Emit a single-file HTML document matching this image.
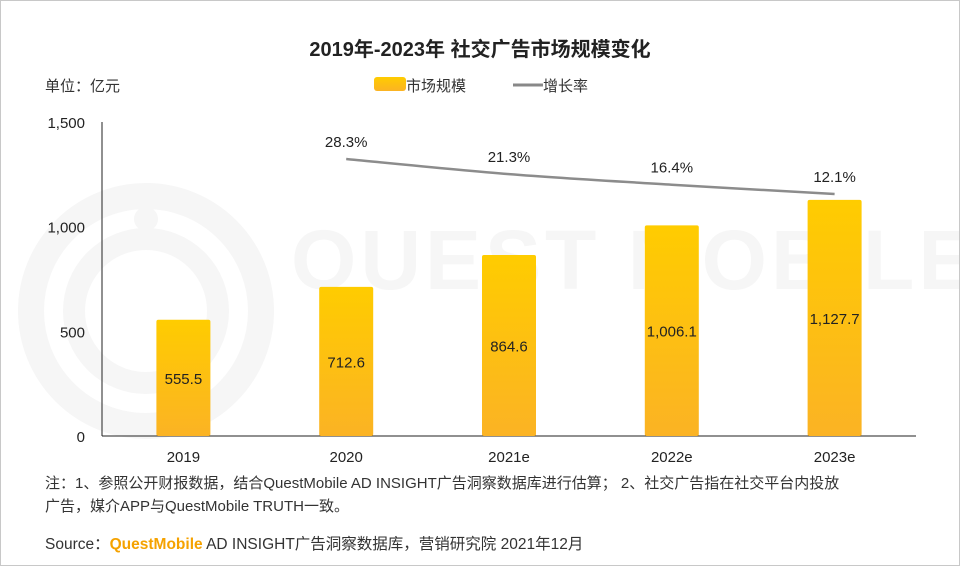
<!DOCTYPE html>
<html><head><meta charset="utf-8">
<style>
body{margin:0;background:#fff;}
#wrap{position:relative;width:958px;height:564px;border:1px solid #c8c8c8;overflow:hidden;font-family:"Liberation Sans","Noto Sans CJK SC",sans-serif;}
svg text{font-family:"Liberation Sans","Noto Sans CJK SC",sans-serif;}
</style></head><body>
<div id="wrap">
<svg id="chart" width="958" height="564">
<defs>
<linearGradient id="bg" x1="0" y1="0" x2="0" y2="1">
<stop offset="0" stop-color="#ffcc00"/><stop offset="1" stop-color="#fbb324"/>
</linearGradient>
</defs>
<g>
<circle cx="145" cy="310" r="115" fill="none" stroke="#f6f6f6" stroke-width="26"/>
<circle cx="145" cy="310" r="72" fill="none" stroke="#f6f6f6" stroke-width="22"/>
<circle cx="145" cy="218" r="12" fill="#f6f6f6"/>
<text x="290" y="288" font-size="84" fill="#f6f6f6" font-weight="bold" letter-spacing="4">QUEST MOBILE</text>
</g>
<text x="479" y="55" text-anchor="middle" font-size="20" font-weight="bold" fill="#222">2019年-2023年 社交广告市场规模变化</text>
<text x="44" y="90" font-size="15" fill="#333">单位：亿元</text>
<g>
<rect x="373" y="76" width="32" height="14" rx="3" fill="url(#bg)"/>
<text x="405" y="90" font-size="15" fill="#333">市场规模</text>
<line x1="512" y1="84" x2="542" y2="84" stroke="#888" stroke-width="3"/>
<text x="542" y="90" font-size="15" fill="#333">增长率</text>
</g>
<g id="axes"></g><g id="bars"></g><g id="line"></g>
<text x="44" y="487" font-size="15" fill="#333">注：1、参照公开财报数据，结合QuestMobile AD INSIGHT广告洞察数据库进行估算； 2、社交广告指在社交平台内投放</text>
<text x="44" y="510" font-size="15" fill="#333">广告，媒介APP与QuestMobile TRUTH一致。</text>
<text x="44" y="548" font-size="15.5" fill="#333">Source：<tspan fill="#f5a200" font-weight="bold">QuestMobile</tspan> AD INSIGHT广告洞察数据库，营销研究院 2021年12月</text>
</svg>
</div>
<script>
const categories=["2019","2020","2021e","2022e","2023e"];
const marketSize=[555.5,712.6,864.6,1006.1,1127.7];
const marketLabels=["555.5","712.6","864.6","1,006.1","1,127.7"];
const growth=[null,28.3,21.3,16.4,12.1];
const yTicks=[0,500,1000,1500];
const yTickLabels=["0","500","1,000","1,500"];
const NS="http://www.w3.org/2000/svg";
function mk(tag,attrs,parent,txt){const e=document.createElementNS(NS,tag);for(const k in attrs)e.setAttribute(k,attrs[k]);if(txt!=null)e.textContent=txt;parent.appendChild(e);return e;}
const x0=101,x1=915,yB=435,yT=121;
const band=(x1-x0)/categories.length;
const xc=i=>x0+band*(i+0.5);
const y=v=>yB-(v/1500)*(yB-yT);
const yg=v=>158+(28.3-v)*2.16;
const axes=document.getElementById('axes'),bars=document.getElementById('bars'),line=document.getElementById('line');
let a=mk('line',{x1:x0,y1:yT,x2:x0,y2:yB,stroke:'#222','stroke-width':1},axes);

a=mk('line',{x1:x0,y1:yB,x2:x1,y2:yB,stroke:'#222','stroke-width':1},axes);

yTicks.forEach((t,i)=>{const e=mk('text',{x:84,y:y(t)+6,'text-anchor':'end','font-size':15,fill:'#222'},axes,yTickLabels[i]);
});
categories.forEach((c,i)=>{
 const e=mk('text',{x:xc(i),y:yB+26,'text-anchor':'middle','font-size':15,fill:'#222'},axes,c);
 
 const b=mk('rect',{x:xc(i)-27,y:y(marketSize[i]),width:54,height:yB-y(marketSize[i]),fill:'url(#bg)',rx:2},bars);
 
 const l=mk('text',{x:xc(i),y:y(marketSize[i]/2)+6,'text-anchor':'middle','font-size':15,fill:'#222'},bars,marketLabels[i]);
 
});
let pts=[];growth.forEach((g,i)=>{if(g!=null)pts.push([xc(i),yg(g),g]);});
// smooth path (Catmull-Rom to Bezier)
let d='M'+pts[0][0]+','+pts[0][1];
for(let i=0;i<pts.length-1;i++){
 const p0=pts[i-1]||pts[i],p1=pts[i],p2=pts[i+1],p3=pts[i+2]||p2;
 const c1x=p1[0]+(p2[0]-p0[0])/6,c1y=p1[1]+(p2[1]-p0[1])/6;
 const c2x=p2[0]-(p3[0]-p1[0])/6,c2y=p2[1]-(p3[1]-p1[1])/6;
 d+=' C'+c1x+','+c1y+' '+c2x+','+c2y+' '+p2[0]+','+p2[1];
}
const p=mk('path',{d:d,fill:'none',stroke:'#8c8c8c','stroke-width':2.5},line);

pts.forEach(q=>{const t=mk('text',{x:q[0],y:q[1]-12,'text-anchor':'middle','font-size':15,fill:'#222'},line,q[2].toFixed(1)+'%');
});
</script>
</body></html>
